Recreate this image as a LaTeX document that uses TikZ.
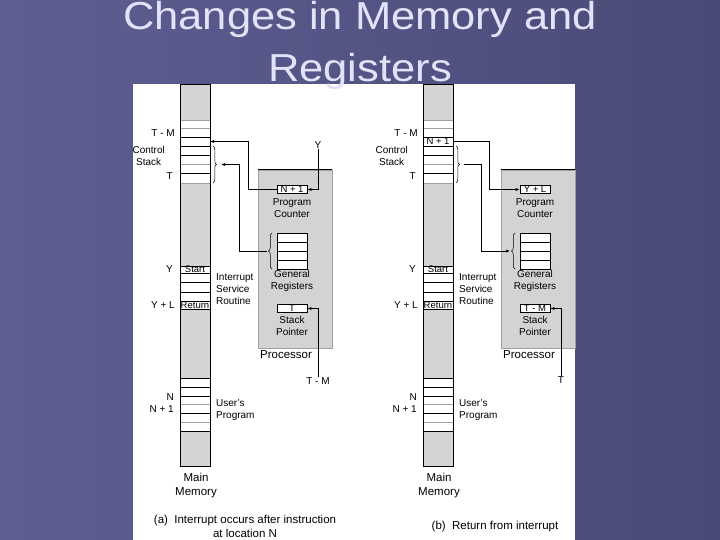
\documentclass[tikz,border=0pt]{standalone}
\usepackage{fontspec}
\setmainfont{Liberation Sans}
\newfontfamily\titlefont[FakeStretch=1.115]{Liberation Sans}
\usetikzlibrary{arrows.meta,decorations.pathreplacing}
\definecolor{slidebg}{HTML}{5E5E92}
\definecolor{slidedark}{HTML}{4A4A78}
\definecolor{titletext}{HTML}{E2E2F8}
\definecolor{memgray}{HTML}{D4D4D4}
\definecolor{cpugray}{HTML}{D3D3D3}
\definecolor{rowgray}{HTML}{A0A0A0}

\begin{document}
\begin{tikzpicture}[x=1pt, y=-1pt,
  title/.style={font=\titlefont\fontsize{39}{50}\selectfont, text=titletext, inner sep=0pt},
  lbl/.style={font=\fontsize{10}{12}\selectfont, inner sep=0pt},
  big/.style={font=\fontsize{11.5}{13.5}\selectfont, inner sep=0pt, align=center},
  cell/.style={font=\fontsize{9.5}{10}\selectfont, inner sep=0pt},
  regbox/.style={draw, fill=white, line width=0.6pt, minimum width=30pt, minimum height=7.5pt,
    inner sep=0pt, font=\fontsize{9.5}{10}\selectfont, text height=6pt, text depth=0pt},
  row/.style={line width=0.6pt},
  faintrow/.style={line width=0.5pt, rowgray},
  link/.style={line width=0.6pt, -{Latex[length=4pt,width=3pt]}},
  curly/.style={decorate, decoration={brace, amplitude=3.5pt}, line width=0.5pt}]
  \useasboundingbox (0,0) rectangle (720,540);

  % Slide background and white panel
  \shade[left color=slidebg, right color=slidedark] (0,0) rectangle (720,540);
  \fill[white] (133,84) rectangle (575,540);

  % Both halves share memory column and processor
  \foreach \dx/\p/\pc/\sp in {0/a/N + 1/T, 243/b/Y + L/T - M}{
    \begin{scope}[shift={(\dx,0)}]
      % Main memory column
      \fill[memgray] (180,84) rectangle (210,466);
      \fill[white] (180,120) rectangle (210,183);
      \fill[white] (180,266) rectangle (210,309);
      \fill[white] (180,378) rectangle (210,431);
      \foreach \y in {120,128,164,183,404,422}
        \draw[faintrow] (180,\y) -- (210,\y);
      \foreach \y in {137,146,155,173,266,273,282,292,301,309,378,387,396,413,431}
        \draw[row] (180,\y) -- (210,\y);
      \draw[row] (180,84) rectangle (210,466);
      \node[cell] (\p-start) at (195,269.5) {Start};
      \node[cell] (\p-return) at (195,305) {Return};
      \coordinate (\p-top) at (210,141.5);

      % Labels beside the column
      \node[lbl, anchor=east] (\p-tm) at (175,133) {T - M};
      \node[lbl, anchor=east, align=center] (\p-cs) at (165,155.5) {Control\\Stack};
      \node[lbl, anchor=east] (\p-t) at (173,176) {T};
      \node[lbl, anchor=east] (\p-y) at (173,269) {Y};
      \node[lbl, anchor=east] (\p-yl) at (175,305) {Y + L};
      \node[lbl, anchor=east, align=right] (\p-n) at (174,403.5) {N\\N + 1};
      \node[lbl, anchor=west, align=left] (\p-isr) at (216,289.5) {Interrupt\\Service\\Routine};
      \node[lbl, anchor=west, align=left] (\p-user) at (216,410) {User's\\Program};
      \node[big] (\p-mm) at (196,485.5) {Main\\Memory};

      % Brace on the stack
      \draw[curly] (213,146) -- (213,183);
      \coordinate (\p-stb) at (221,164.5);

      % Processor
      \draw[fill=cpugray, draw=rowgray, line width=0.5pt] (258,170) rectangle (332,348);
      \draw[line width=1pt] (258,170) -- (332,170);
      \node[regbox] (\p-pc) at (292,189.5) {\pc};
      \node[lbl, align=center] (\p-pclab) at (292,208.5) {Program\\Counter};
      \node[regbox, minimum height=36pt] (\p-gr) at (292,251) {};
      \foreach \y in {242,251,260}
        \draw[row] (277,\y) -- (307,\y);
      \draw[curly] (272,269) -- (272,233);
      \coordinate (\p-grb) at (267,251);
      \node[lbl, align=center] (\p-grlab) at (292,281) {General\\Registers};
      \node[regbox] (\p-sp) at (292,308.5) {\sp};
      \node[lbl, align=center] (\p-splab) at (292,326) {Stack\\Pointer};
      \node[big] (\p-cpu) at (286,355) {Processor};
    \end{scope}
  }

  % (a) interrupt occurs
  \node[lbl] (a-ylab) at (318,145) {Y};
  \node[lbl] (a-tmm) at (318,381) {T - M};
  \draw[link] (a-ylab) |- (a-pc.east);
  \draw[link] (a-tmm) |- (a-sp.east);
  \draw[link] (a-pc.west) -- ++(-28,0) |- (a-top);
  \draw[link] (a-grb) -- ++(-28,0) |- (a-stb);
  \node[big] (a-cap) at (245,526.5) {(a)\ \ Interrupt occurs after instruction\\at location N};

  % (b) return from interrupt
  \node[cell] (b-saved) at (438,141.5) {N + 1};
  \node[lbl] (b-tlab) at (561,380) {T};
  \draw[link] (b-top) -- ++(36,0) |- (b-pc.west);
  \draw[link] (b-stb) -- ++(17,0) |- (b-grb);
  \draw[link] (b-tlab) |- (b-sp.east);
  \node[big] (b-cap) at (495,527) {(b)\ \ Return from interrupt};

  % Title
  \node[title, anchor=base] (title) at (360,30) {Changes in Memory and};
  \node[title, anchor=base] (title-2) at (360,82) {Registers};
\end{tikzpicture}
\end{document}
